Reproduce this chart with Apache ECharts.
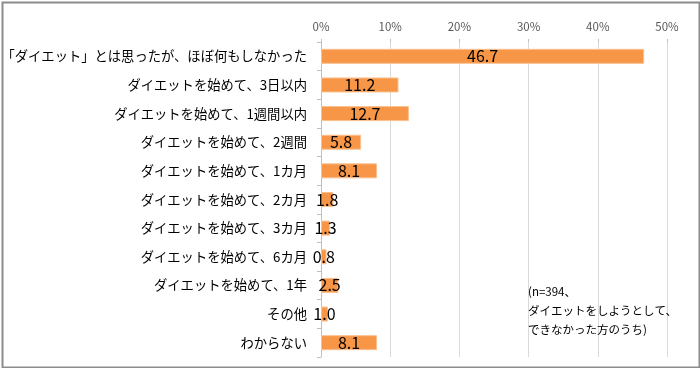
<!DOCTYPE html>
<html><head><meta charset="utf-8">
<script src="https://cdn.jsdelivr.net/npm/echarts@6/dist/echarts.min.js"></script>
<style>
html,body{margin:0;padding:0;background:#fff;}
#c{width:700px;height:368px;}
</style></head>
<body><div id="c"></div>
<script>
const categories = ["「ダイエット」とは思ったが、ほぼ何もしなかった","ダイエットを始めて、3日以内","ダイエットを始めて、1週間以内","ダイエットを始めて、2週間","ダイエットを始めて、1カ月","ダイエットを始めて、2カ月","ダイエットを始めて、3カ月","ダイエットを始めて、6カ月","ダイエットを始めて、1年","その他","わからない"];
const values = [46.7,11.2,12.7,5.8,8.1,1.8,1.3,0.8,2.5,1.0,8.1];
const xTicks = [0,10,20,30,40,50];
const note = "(n=394、\nダイエットをしようとして、\nできなかった方のうち)";
const font = '"Noto Sans CJK JP", sans-serif';
const chart = echarts.init(document.getElementById('c'));
chart.setOption({
  animation:false,
  grid:{left:321,right:33,top:42,bottom:11,containLabel:false,outerBoundsMode:'none'},
  xAxis:{type:'value',position:'top',min:xTicks[0],max:xTicks[xTicks.length-1],interval:10,
    axisLabel:{formatter:'{value}%',color:'#595959',fontSize:11.5,fontFamily:font,margin:10},
    axisLine:{show:false},axisTick:{show:true,length:3,lineStyle:{color:'#bfbfbf'}},
    splitLine:{lineStyle:{color:'#d9d9d9',width:1}}},
  yAxis:{type:'category',inverse:true,data:categories,
    axisLine:{lineStyle:{color:'#bfbfbf'}},axisTick:{show:true,length:4,lineStyle:{color:'#bfbfbf'}},
    axisLabel:{color:'#000',fontSize:13.3,fontFamily:font,margin:14}},
  series:[{type:'bar',data:values,barWidth:15,
    itemStyle:{color:'#F79646',borderColor:'#FAC090',borderWidth:1},
    label:{show:true,position:'inside',color:'#000',fontSize:16,fontFamily:font,formatter:p=>p.value.toFixed(1)}}],
  graphic:[
    {type:'rect',left:0,top:0,shape:{x:1,y:1,width:697,height:365},style:{fill:'none',stroke:'#8c8c8c',lineWidth:2},z:100},
    {type:'text',left:528,top:282,style:{text:note,font:'11.5px '+font,fill:'#000',lineHeight:19},z:100}
  ]
});
</script></body></html>
